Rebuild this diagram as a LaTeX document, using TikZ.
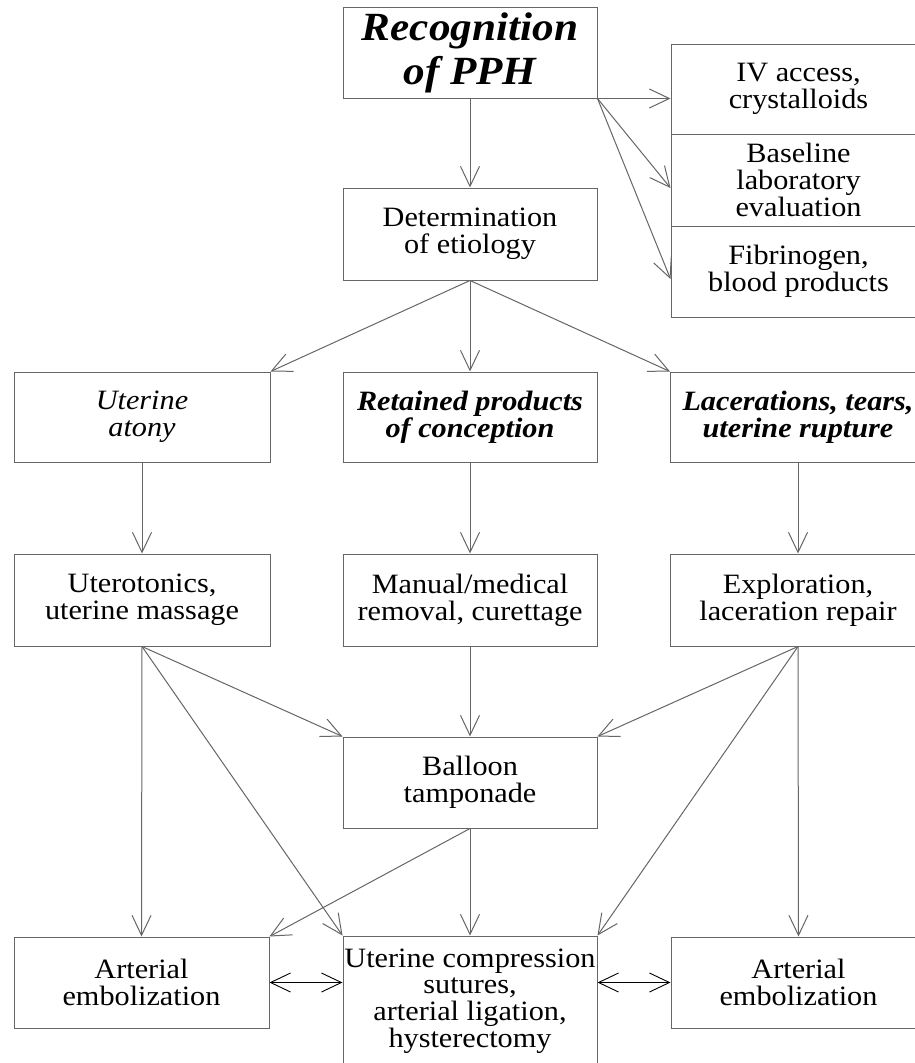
\documentclass[tikz,border=0pt]{standalone}
\usepackage{fontspec}
\setmainfont{Liberation Serif}[FakeStretch=1.08]
\usetikzlibrary{arrows.meta,calc}
\definecolor{linegray}{rgb}{0.40,0.40,0.40}
\tikzset{
  box/.style={draw=linegray, line width=1pt, minimum width=255pt, inner sep=0pt,
    align=center, font=\fontsize{28}{26.7}\selectfont, text=black},
  ibox/.style={box, font=\fontsize{28}{26.7}\selectfont\bfseries\itshape},
  conn/.style={draw=linegray, line width=1pt, -{Straight Barb[length=20pt,width=19pt,line width=1pt]}},
  dconn/.style={draw=black, line width=0.9pt, {Straight Barb[length=20pt,width=19pt,line width=0.9pt]}-{Straight Barb[length=20pt,width=19pt,line width=0.9pt]}}
}
\begin{document}
\begin{tikzpicture}[x=1pt,y=-1pt]
\useasboundingbox (0,0) rectangle (915,1063);
\clip (0,0) rectangle (915,1063);
\fill[white] (0,0) rectangle (915,1063);
% nodes
\node[box, minimum height=91pt, minimum width=254pt, font=\fontsize{40}{44}\selectfont\bfseries\itshape] (rec) at (470,52.5) {Recognition\\of PPH};
\node[box, minimum height=90pt] (iv) at (798.5,89) {IV access,\\crystalloids};
\node[box, minimum height=92pt] (base) at (798.5,180) {Baseline\\laboratory\\evaluation};
\node[box, minimum height=91pt] (fib) at (798.5,271.5) {Fibrinogen,\\blood products};
\node[box, minimum height=92pt, minimum width=254pt] (det) at (470,234) {Determination\\of etiology};
\node[box, minimum height=90pt, minimum width=256pt, font=\fontsize{28}{26.7}\selectfont\itshape] (ua) at (142,417) {Uterine\\atony};
\node[ibox, minimum height=90pt, minimum width=254pt] (rp) at (470,417) {Retained products\\of conception};
\node[ibox, minimum height=90pt] (lac) at (798,417) {Lacerations, tears,\\uterine rupture};
\node[box, minimum height=92pt, minimum width=256pt] (ut) at (142,600) {Uterotonics,\\uterine massage};
\node[box, minimum height=92pt, minimum width=254pt] (man) at (470,600) {Manual/medical\\removal, curettage};
\node[box, minimum height=92pt] (exp) at (798,600) {Exploration,\\laceration repair};
\node[box, minimum height=91pt, minimum width=254pt] (bal) at (470,782.5) {Balloon\\tamponade};
\node[box, minimum height=91pt, minimum width=255pt] (ae1) at (141.5,982.5) {Arterial\\embolization};
\node[box, minimum height=130pt, minimum width=254pt] (ucs) at (470,1001) {Uterine compression\\sutures,\\arterial ligation,\\hysterectomy};
\node[box, minimum height=91pt] (ae2) at (798.5,982.5) {Arterial\\embolization};
% connectors
\draw[conn] (rec.south) -- (det.north);
\draw[conn] (rec.south east) -- (rec.south east -| iv.west);
\draw[conn] (rec.south east) -- ($(base.west)+(0,8)$);
\draw[conn] (rec.south east) -- ($(fib.west)+(0,7.5)$);
\draw[conn] (det.south) -- (ua.north east);
\draw[conn] (det.south) -- (rp.north);
\draw[conn] (det.south) -- (lac.north west);
\draw[conn] (ua.south) -- (ut.north);
\draw[conn] (rp.south) -- (man.north);
\draw[conn] (lac.south) -- (exp.north);
\draw[conn] (ut.south) -- (bal.north west);
\draw[conn] (ut.south) -- (ucs.north west);
\draw[conn] (ut.south) -- (ae1.north);
\draw[conn] (man.south) -- (bal.north);
\draw[conn] (exp.south) -- (bal.north east);
\draw[conn] (exp.south) -- (ucs.north east);
\draw[conn] (exp.south) -- (ae2.north);
\draw[conn] (bal.south) -- (ucs.north);
\draw[conn] (bal.south) -- (ae1.north east);
\draw[dconn] (ae1.east) -- (ae1.east -| ucs.west);
\draw[dconn] (ae2.west -| ucs.east) -- (ae2.west);
\end{tikzpicture}
\end{document}
